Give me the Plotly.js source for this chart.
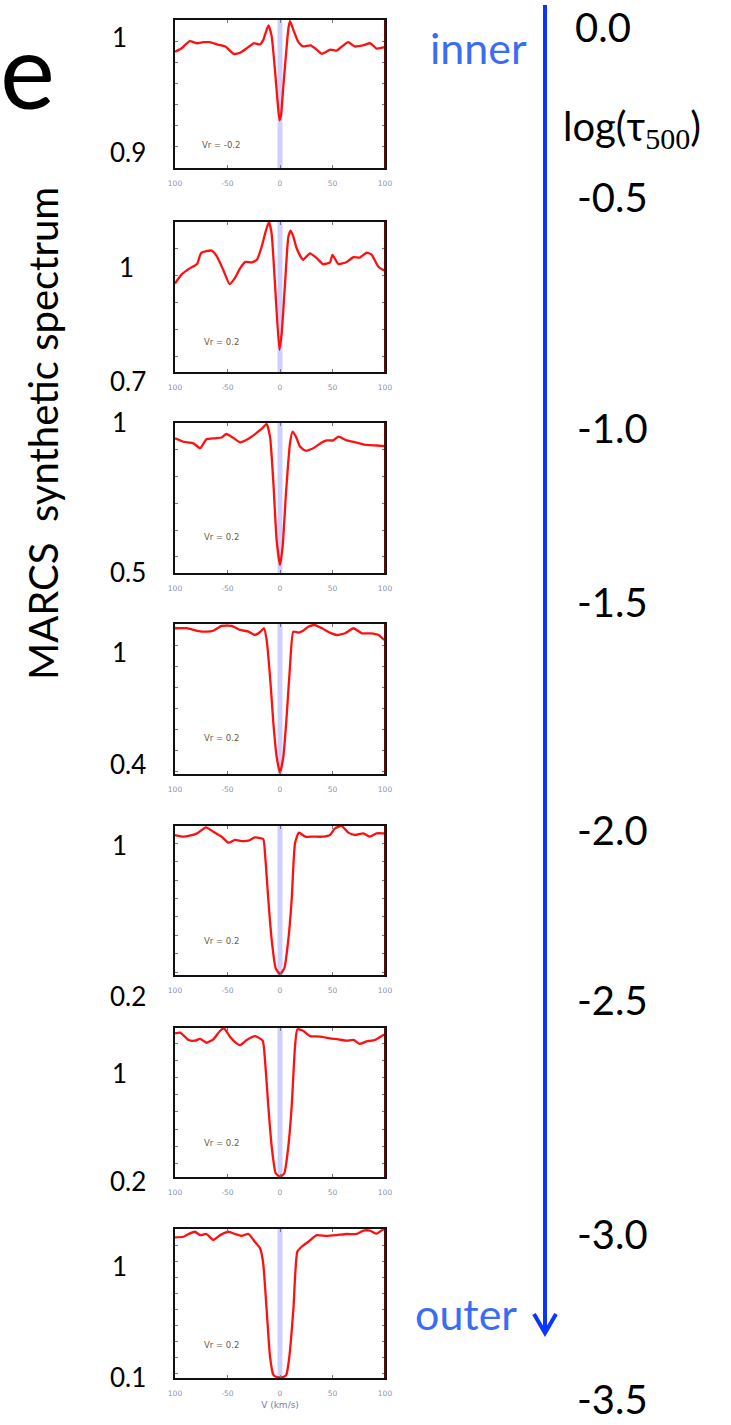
<!DOCTYPE html>
<html>
<head>
<meta charset="utf-8">
<script src="https://cdn.plot.ly/plotly-3.0.1.min.js"></script>
<style>html,body{margin:0;padding:0;background:#fff;}#chart{width:731px;height:1425px;}</style>
</head>
<body>
<div id="chart"></div>
<script>
// ---------------- DATA ----------------
const xTickVals = [-100, -50, 0, 50, 100];
const xTickText = ['100', '-50', '0', '50', '100'];
const xTitle = 'V (km/s)';

// panel 1 (Vr = -0.2)
const p1V = [-100,-94,-86,-79,-73,-67,-60,-52,-44,-38,-32,-25,-19,-16,-11,-8,-5,-2.5,-0.5,1,3,5.5,8,9.5,13,17.5,22,29,35,40,48,54,59,65,71,79,86,92,98,100];
const p1F = [0.990,0.993,1.000,0.998,0.999,0.999,0.997,0.995,0.988,0.989,0.993,0.998,0.997,1.001,1.015,1.005,0.975,0.945,0.925,0.930,0.955,0.985,1.012,1.019,1.010,0.999,0.995,0.996,0.992,0.988,0.992,0.991,0.995,0.999,0.995,0.996,0.998,0.993,0.994,0.994];

// panel 2
const p2V = [-100,-94,-86,-79,-75,-65,-60,-54,-48,-43,-38,-33,-27,-22,-17.5,-13.3,-10.5,-8,-4.8,-0.6,1.6,4.8,8,10.2,12.7,15.9,22,28.6,35,41,47.6,50,55.6,63.5,70,76,82.5,87,93.7,98.4,100];
const p2F = [0.936,0.952,0.964,0.972,0.993,0.997,0.986,0.961,0.935,0.946,0.964,0.976,0.975,0.980,1.004,1.035,1.050,1.029,0.936,0.813,0.844,0.936,1.023,1.034,1.023,1.001,0.980,0.992,0.983,0.972,0.975,0.989,0.972,0.976,0.985,0.984,0.993,0.990,0.967,0.961,0.960];

// panel 3
const p3V = [-100,-92,-82.5,-76,-70,-62,-55.6,-51,-44,-38,-30,-22,-16,-12.7,-9.5,-6.3,-3.2,0,2.5,5.7,9.5,12,15.2,19,24,31.7,39.7,44.4,50.8,55.6,63.5,73,82.5,92,100];
const p3F = [0.943,0.930,0.924,0.906,0.939,0.943,0.946,0.959,0.943,0.928,0.941,0.964,0.984,0.996,0.949,0.775,0.563,0.470,0.538,0.738,0.924,0.968,0.949,0.912,0.897,0.906,0.927,0.935,0.935,0.949,0.935,0.927,0.918,0.916,0.914];

// panel 4
const p4V = [-100,-89,-79,-70,-63.5,-55.6,-46,-38,-30,-24,-19,-15.2,-12.7,-9.5,-6.3,-3.2,0,3.2,6.3,9.5,12.7,17.5,22,27,33,40,47.6,54,62,70,78,86,94,98.4,100];
const p4F = [1.080,1.080,1.068,1.064,1.068,1.091,1.091,1.072,1.064,1.048,1.062,1.080,1.024,0.851,0.630,0.472,0.396,0.472,0.661,0.898,1.064,1.059,1.068,1.087,1.095,1.080,1.059,1.048,1.056,1.080,1.056,1.056,1.048,1.028,1.026];

// panel 5
const p5V = [-100,-92,-86,-79,-70.5,-63.5,-55.6,-49,-43,-36.5,-30,-24,-16,-14.3,-11.1,-7.9,-4.1,0,4.1,7.9,11.1,14.3,18,24,32,41,47.6,52.4,58.7,65,71.4,79.4,85.7,92,98.4,100];
const p5F = [1.046,1.037,1.042,1.055,1.088,1.064,1.037,1.004,1.019,1.013,1.015,1.033,1.024,0.946,0.692,0.474,0.320,0.289,0.320,0.474,0.692,1.001,1.059,1.037,1.037,1.037,1.046,1.082,1.095,1.059,1.046,1.055,1.037,1.055,1.055,1.055];

// panel 6
const p6V = [-100,-95,-87,-81,-76,-70,-63.5,-57,-53.3,-47.6,-41.3,-38,-31.7,-23.8,-16.5,-14.3,-11.1,-7.9,-4.1,0,4.1,7.9,11.1,14.3,16.5,22,28.6,38,47.6,55.6,63.5,70,76,82.5,90.5,98.4,100];
const p6F = [1.059,1.063,1.020,1.016,1.027,1.004,1.024,1.074,1.088,1.039,1.000,0.990,1.020,1.043,1.016,0.903,0.630,0.397,0.242,0.222,0.242,0.397,0.630,0.981,1.082,1.074,1.043,1.040,1.030,1.024,1.016,1.020,0.997,1.012,1.020,1.049,1.052];

// panel 7
const p7V = [-100,-92,-87,-81,-76,-70,-63.5,-57,-49,-43,-36.5,-30,-24,-19,-16,-12.7,-9.5,-6.3,-3,0,3,6,8.9,12.7,16.5,20.6,27,35,44,54,63.5,73,79.4,85.7,92,98.4,100];
const p7F = [1.048,1.052,1.069,1.083,1.062,1.069,1.032,1.062,1.083,1.069,1.057,1.069,1.021,0.980,0.887,0.597,0.307,0.194,0.180,0.178,0.180,0.194,0.307,0.597,0.959,0.990,1.021,1.062,1.057,1.062,1.069,1.069,1.090,1.090,1.071,1.098,1.098];

const velocities = [p1V, p2V, p3V, p4V, p5V, p6V, p7V];
const fluxes = [p1F, p2F, p3F, p4F, p5F, p6F, p7F];
const vrLabels = ['Vr = -0.2', 'Vr = 0.2', 'Vr = 0.2', 'Vr = 0.2', 'Vr = 0.2', 'Vr = 0.2', 'Vr = 0.2'];
const yTopLabels = ['1', '1', '1', '1', '1', '1', '1'];
const yBottomLabels = ['0.9', '0.7', '0.5', '0.4', '0.2', '0.2', '0.1'];
const tauLabels = ['0.0', '-0.5', '-1.0', '-1.5', '-2.0', '-2.5', '-3.0', '-3.5'];

// ---------------- LAYOUT CONSTANTS ----------------
const W = 731, H = 1425;
const PX = p => p / W;
const PY = p => 1 - p / H;
const panelTop = [20, 222, 423, 624, 826, 1028, 1229];
const panelBot = [168, 372, 573, 774, 975, 1177, 1378];
const panelLeft = 175, panelRight = 385;
const yRanges = [[0.88, 1.02], [0.772, 1.05], [0.44, 1.0], [0.39, 1.1], [0.284, 1.095], [0.22, 1.09], [0.175, 1.1]];
const yDticks = [0.02, 0.05, 0.1, 0.1, 0.1, 0.1, 0.1];
const vrYFrac = [0.155, 0.2, 0.24, 0.24, 0.23, 0.23, 0.22];
const topLabelPos = [[110, 37], [117, 267], [110, 422], [110, 652], [110, 845], [110, 1073], [110, 1266]];
const botLabelPos = [[108, 152], [108, 381], [108, 572], [108, 764], [108, 996], [108, 1181], [108, 1377]];
const tauPos = [[573, 27], [575, 197], [575, 428], [575, 602], [575, 830], [575, 1000], [575, 1234], [575, 1399]];

const blue = '#0a34ff';
const lightBlue = '#3b6cf6';
const fontMain = 'Lato, "Open Sans", sans-serif';
const fontSmall = '"DejaVu Sans", Verdana, sans-serif';

const traces = [];
const layout = {
  width: W, height: H,
  margin: {l: 0, r: 0, t: 0, b: 0},
  paper_bgcolor: '#fff', plot_bgcolor: '#fff',
  showlegend: false,
  annotations: [], shapes: []
};

for (let i = 0; i < 7; i++) {
  const n = i + 1;
  const xa = n === 1 ? 'x' : 'x' + n;
  const ya = n === 1 ? 'y' : 'y' + n;
  traces.push({
    type: 'scatter', mode: 'lines',
    x: velocities[i], y: fluxes[i],
    xaxis: xa, yaxis: ya,
    line: {color: '#ff1010', width: 2.3, shape: 'spline', smoothing: 0.5},
    hoverinfo: 'skip'
  });
  const xaxis = {
    domain: [PX(panelLeft), PX(panelRight)],
    anchor: ya,
    range: [-100, 100],
    tickmode: 'array', tickvals: xTickVals, ticktext: xTickText,
    ticks: 'inside', ticklen: 3, tickcolor: '#777', tickwidth: 1,
    showline: true, linecolor: '#111', linewidth: 2, mirror: 'allticks',
    showgrid: false, zeroline: false,
    tickfont: {size: 7.5, color: '#8a93ad', family: fontSmall},
    ticklabelstandoff: 7,
    fixedrange: true
  };
  if (n === 7) {
    xaxis.title = {text: xTitle, font: {size: 9, color: '#6f7fa8', family: fontSmall}, standoff: 5};
  }
  layout['xaxis' + (n === 1 ? '' : n)] = xaxis;
  layout['yaxis' + (n === 1 ? '' : n)] = {
    domain: [PY(panelBot[i]), PY(panelTop[i])],
    anchor: xa,
    range: yRanges[i],
    dtick: yDticks[i], tick0: 0,
    ticks: 'inside', ticklen: 3, tickcolor: '#777', tickwidth: 1,
    showticklabels: false,
    showline: true, linecolor: '#111', linewidth: 2, mirror: 'allticks',
    showgrid: false, zeroline: false,
    fixedrange: true
  };
  // rest-velocity band
  layout.shapes.push({
    type: 'line', xref: xa, yref: ya + ' domain',
    x0: 0, x1: 0, y0: 0, y1: 1,
    line: {color: 'rgba(150,150,255,0.45)', width: 5}, layer: 'below'
  });
  // right border tinted
  layout.shapes.push({
    type: 'line', xref: xa + ' domain', yref: ya + ' domain',
    x0: 1, x1: 1, y0: 0, y1: 1,
    line: {color: '#5a0a0a', width: 2}, layer: 'above'
  });
  layout.annotations.push({
    xref: xa, yref: ya + ' domain', x: -56, y: vrYFrac[i],
    text: vrLabels[i], showarrow: false,
    font: {size: 8.5, color: '#6b5a4a', family: fontSmall},
    xanchor: 'center', yanchor: 'middle'
  });
  layout.annotations.push({
    xref: 'paper', yref: 'paper', x: PX(topLabelPos[i][0]), y: PY(topLabelPos[i][1]),
    text: yTopLabels[i], showarrow: false,
    font: {size: 26, color: '#000', family: fontMain},
    xanchor: 'left', yanchor: 'middle'
  });
  layout.annotations.push({
    xref: 'paper', yref: 'paper', x: PX(botLabelPos[i][0]), y: PY(botLabelPos[i][1]),
    text: yBottomLabels[i], showarrow: false,
    font: {size: 26, color: '#000', family: fontMain},
    xanchor: 'left', yanchor: 'middle'
  });
}

// right-hand optical depth labels
for (let k = 0; k < tauLabels.length; k++) {
  layout.annotations.push({
    xref: 'paper', yref: 'paper', x: PX(tauPos[k][0]), y: PY(tauPos[k][1]),
    text: tauLabels[k], showarrow: false,
    font: {size: 40, color: '#000', family: fontMain},
    xanchor: 'left', yanchor: 'middle'
  });
}
layout.annotations.push({
  xref: 'paper', yref: 'paper', x: PX(561), y: PY(128),
  text: 'log(τ<sub><span style="font-family:\'Liberation Serif\',serif;font-size:30px">500</span></sub>)', showarrow: false,
  font: {size: 40, color: '#000', family: fontMain},
  xanchor: 'left', yanchor: 'middle'
});
layout.annotations.push({
  xref: 'paper', yref: 'paper', x: PX(529), y: PY(48),
  text: 'inner', showarrow: false,
  font: {size: 43, color: lightBlue, family: fontMain},
  xanchor: 'right', yanchor: 'middle'
});
layout.annotations.push({
  xref: 'paper', yref: 'paper', x: PX(519), y: PY(1313),
  text: 'outer', showarrow: false,
  font: {size: 43, color: lightBlue, family: fontMain},
  xanchor: 'right', yanchor: 'middle'
});
// panel letter and left title
layout.annotations.push({
  xref: 'paper', yref: 'paper', x: PX(-2), y: PY(68),
  text: 'e', showarrow: false,
  font: {size: 104, color: '#000', family: fontMain},
  xanchor: 'left', yanchor: 'middle'
});
layout.annotations.push({
  xref: 'paper', yref: 'paper', x: PX(43), y: PY(434),
  text: 'MARCS\u00a0 synthetic spectrum', showarrow: false, textangle: -90,
  font: {size: 40, color: '#000', family: fontMain},
  xanchor: 'center', yanchor: 'middle'
});
// depth arrow
layout.shapes.push({
  type: 'path', xref: 'paper', yref: 'paper',
  path: `M ${PX(545)},${PY(5)} L ${PX(545)},${PY(1332)}`,
  line: {color: blue, width: 4}
});
layout.shapes.push({
  type: 'path', xref: 'paper', yref: 'paper',
  path: `M ${PX(534)},${PY(1314)} L ${PX(545)},${PY(1333)} L ${PX(556)},${PY(1314)}`,
  line: {color: blue, width: 4}
});

Plotly.newPlot('chart', traces, layout, {staticPlot: true, displayModeBar: false});
</script>
</body>
</html>
